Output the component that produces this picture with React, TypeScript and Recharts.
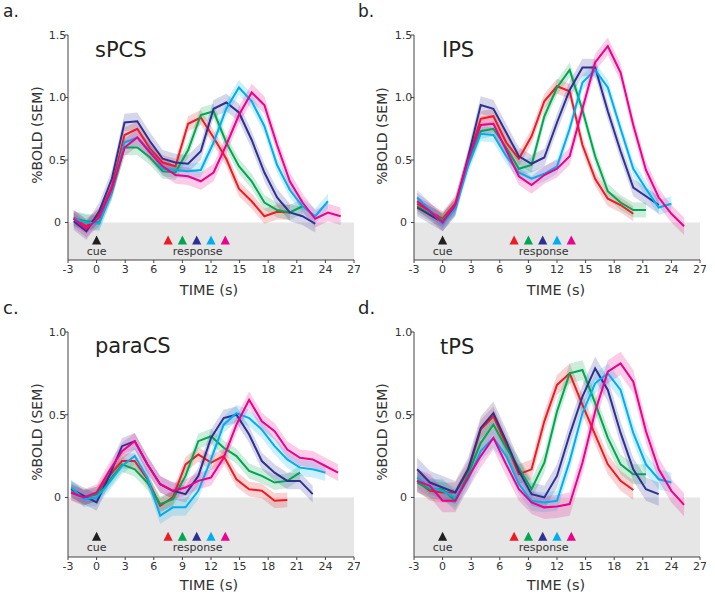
import React from 'react';
import { ComposedChart, Line, Area, XAxis, YAxis, ReferenceArea, Scatter } from 'recharts';

// ---------- data ----------
const COLORS = ['#ed1c24', '#00a651', '#2e3192', '#00aeef', '#ec008c'];
const X_TICKS = [-3, 0, 3, 6, 9, 12, 15, 18, 21, 24, 27];
const CUE_T = [0];
const RESPONSE_T = [7.5, 9, 10.5, 12, 13.5];
const RESPONSE_LABEL_T = [10.6];

const TIME_A = [-2.4, -1.07, 0.27, 1.6, 2.93, 4.27, 5.6, 6.93, 8.27, 9.6, 10.93, 12.27, 13.6, 14.93, 16.27, 17.6, 18.93, 20.27, 21.6, 22.93, 24.27, 25.6];
const TIME_BCD = [-2.67, -1.33, 0, 1.33, 2.67, 4, 5.33, 6.67, 8, 9.33, 10.67, 12, 13.33, 14.67, 16, 17.33, 18.67, 20, 21.33, 22.67, 24, 25.33];

// a. sPCS
const A_RED = [0.04, -0.03, 0.06, 0.29, 0.7, 0.75, 0.59, 0.48, 0.45, 0.79, 0.84, 0.68, 0.51, 0.27, 0.17, 0.05, 0.085, 0.08];
const A_GREEN = [0.03, 0.01, 0.0, 0.24, 0.6, 0.6, 0.52, 0.41, 0.4, 0.58, 0.86, 0.89, 0.64, 0.45, 0.33, 0.16, 0.1, 0.08, 0.13];
const A_BLUE = [0.01, -0.07, 0.09, 0.35, 0.8, 0.81, 0.65, 0.51, 0.48, 0.47, 0.57, 0.91, 0.96, 0.88, 0.66, 0.4, 0.2, 0.08, 0.05, -0.01];
const A_CYAN = [0.03, 0.0, -0.01, 0.25, 0.64, 0.68, 0.57, 0.43, 0.42, 0.41, 0.42, 0.64, 0.91, 1.08, 0.97, 0.77, 0.46, 0.26, 0.13, 0.05, 0.17];
const A_MAGENTA = [0.03, -0.05, 0.04, 0.27, 0.6, 0.68, 0.56, 0.45, 0.38, 0.37, 0.33, 0.4, 0.62, 0.86, 1.04, 0.94, 0.62, 0.33, 0.16, 0.03, 0.08, 0.05];
const A_SEM = [0.06, 0.06, 0.07, 0.06, 0.07];

// b. IPS
const B_RED = [0.15, 0.09, 0.03, 0.15, 0.5, 0.83, 0.85, 0.64, 0.51, 0.69, 0.97, 1.09, 1.05, 0.62, 0.35, 0.19, 0.14, 0.07];
const B_GREEN = [0.13, 0.07, 0.02, 0.12, 0.48, 0.73, 0.75, 0.6, 0.43, 0.46, 0.85, 1.08, 1.22, 0.9, 0.53, 0.25, 0.16, 0.1, 0.1];
const B_BLUE = [0.12, 0.06, 0.0, 0.12, 0.52, 0.94, 0.91, 0.72, 0.53, 0.47, 0.52, 0.8, 1.06, 1.24, 1.24, 0.89, 0.57, 0.28, 0.21, 0.14];
const B_CYAN = [0.2, 0.1, -0.01, 0.11, 0.45, 0.71, 0.7, 0.53, 0.4, 0.35, 0.39, 0.45, 0.75, 1.12, 1.22, 1.08, 0.75, 0.43, 0.27, 0.12, 0.15];
const B_MAGENTA = [0.17, 0.09, 0.0, 0.14, 0.5, 0.78, 0.79, 0.58, 0.37, 0.3, 0.38, 0.43, 0.53, 0.91, 1.28, 1.41, 1.2, 0.78, 0.42, 0.2, 0.07, -0.03];
const B_SEM = [0.06, 0.06, 0.07, 0.06, 0.07];

// c. paraCS
const C_RED = [0.03, 0.0, 0.02, 0.13, 0.22, 0.22, 0.11, -0.05, 0.0, 0.2, 0.26, 0.21, 0.25, 0.11, 0.05, 0.04, -0.02, -0.015];
const C_GREEN = [0.05, 0.0, 0.02, 0.1, 0.2, 0.17, 0.09, -0.04, -0.01, 0.13, 0.34, 0.37, 0.3, 0.25, 0.16, 0.13, 0.09, 0.1, 0.15];
const C_BLUE = [0.05, 0.01, -0.03, 0.13, 0.31, 0.34, 0.2, 0.08, 0.04, 0.02, 0.13, 0.36, 0.48, 0.5, 0.38, 0.22, 0.15, 0.1, 0.1, 0.02];
const C_CYAN = [0.06, -0.01, 0.0, 0.09, 0.19, 0.25, 0.12, -0.11, -0.06, -0.06, 0.04, 0.23, 0.44, 0.51, 0.48, 0.41, 0.31, 0.23, 0.18, 0.17, 0.15];
const C_MAGENTA = [0.03, 0.0, 0.03, 0.16, 0.28, 0.34, 0.2, 0.08, 0.04, 0.06, 0.1, 0.12, 0.24, 0.44, 0.59, 0.46, 0.4, 0.29, 0.24, 0.23, 0.19, 0.15];
const C_SEM = [0.045, 0.045, 0.05, 0.05, 0.05];

// d. tPS
const D_RED = [0.1, 0.04, 0.03, 0.03, 0.16, 0.41, 0.49, 0.32, 0.14, 0.17, 0.46, 0.68, 0.75, 0.56, 0.38, 0.2, 0.1, 0.045];
const D_GREEN = [0.09, 0.05, 0.05, -0.02, 0.14, 0.33, 0.44, 0.3, 0.18, 0.05, 0.21, 0.52, 0.75, 0.77, 0.57, 0.36, 0.2, 0.14, 0.14];
const D_BLUE = [0.17, 0.09, 0.06, 0.03, 0.17, 0.42, 0.51, 0.34, 0.16, 0.02, 0.0, 0.13, 0.38, 0.61, 0.78, 0.65, 0.39, 0.17, 0.05, 0.02];
const D_CYAN = [0.12, 0.06, 0.04, 0.0, 0.11, 0.28, 0.36, 0.25, 0.08, -0.02, -0.03, -0.02, 0.22, 0.51, 0.69, 0.75, 0.65, 0.39, 0.2, 0.11, 0.09];
const D_MAGENTA = [0.1, 0.07, -0.02, -0.02, 0.12, 0.25, 0.36, 0.2, 0.05, -0.03, -0.06, -0.055, -0.04, 0.21, 0.52, 0.76, 0.81, 0.7, 0.4, 0.17, 0.04, -0.045];
const D_SEM = [0.06, 0.06, 0.07, 0.06, 0.07];

const Y_TICKS_15 = [0, 0.5, 1, 1.5];
const Y_TICKS_10 = [0, 0.5, 1];

// ---------- helpers ----------
const FONT = 'DejaVu Sans, Verdana, sans-serif';

function buildRows(times: number[], series: number[][], sem: number[]) {
  return times.map((t, i) => {
    const row: any = { t };
    series.forEach((arr, k) => {
      const v = arr[i];
      if (v !== undefined) {
        row['s' + k] = v;
        row['b' + k] = [v - sem[k], v + sem[k]];
      }
    });
    return row;
  });
}

function buildMarkers(markerY: number) {
  const out: any[] = [];
  CUE_T.forEach((t) => out.push({ t, y: markerY, color: '#231f20', label: 'cue' }));
  RESPONSE_T.forEach((t, i) => out.push({ t, y: markerY, color: COLORS[i] }));
  RESPONSE_LABEL_T.forEach((t) => out.push({ t, y: markerY, label: 'response' }));
  return out;
}

const MarkerShape = (props: any) => {
  const { cx, cy, payload } = props;
  if (cx == null || cy == null) return null;
  return (
    <g>
      {payload.color ? (
        <path d={`M${cx - 4.6},${cy + 4.5} L${cx + 4.6},${cy + 4.5} L${cx},${cy - 4.5} Z`} fill={payload.color} />
      ) : null}
      {payload.label ? (
        <text x={cx} y={cy + 15} textAnchor="middle" fontSize={11} fill="#333" fontFamily={FONT}>
          {payload.label}
        </text>
      ) : null}
    </g>
  );
};

const YTick = (props: any) => {
  const { x, y, payload } = props;
  const v = payload.value;
  return (
    <text x={x - 5.5} y={y} dy="0.35em" textAnchor="middle" fontSize={11} fill="#333" fontFamily={FONT}>
      {v === 0 ? '0' : v.toFixed(1)}
    </text>
  );
};

type PanelProps = {
  left: number;
  top: number;
  rows: any[];
  yDomain: [number, number];
  yTicks: number[];
  markerY: number;
};

function Panel({ left, top, rows, yDomain, yTicks, markerY }: PanelProps) {
  const markers = buildMarkers(markerY);
  return (
    <div style={{ position: 'absolute', left, top }}>
      <ComposedChart width={360} height={300} data={rows} margin={{ top: 35, right: 6, left: 28, bottom: 15 }}>
        <ReferenceArea x1={-3} x2={27} y1={yDomain[0]} y2={0} fill="#e6e6e6" fillOpacity={1} stroke="none" />
        <XAxis
          dataKey="t"
          type="number"
          domain={[-3, 27]}
          ticks={X_TICKS}
          interval={0}
          allowDataOverflow
          height={25}
          tickSize={3}
          tick={{ fontSize: 11, fill: '#333', fontFamily: FONT }}
          stroke="#444"
        />
        <YAxis
          type="number"
          domain={yDomain}
          ticks={yTicks}
          interval={0}
          allowDataOverflow
          width={40}
          tickSize={3}
          tick={<YTick />}
          stroke="#444"
        />
        {COLORS.map((c, k) => (
          <Area
            key={'b' + k}
            dataKey={'b' + k}
            stroke="none"
            fill={c}
            fillOpacity={0.2}
            isAnimationActive={false}
            dot={false}
            activeDot={false}
          />
        ))}
        {COLORS.map((c, k) => (
          <Line
            key={'s' + k}
            dataKey={'s' + k}
            stroke={c}
            strokeWidth={2}
            dot={false}
            activeDot={false}
            isAnimationActive={false}
          />
        ))}
        <Scatter data={markers} dataKey="y" shape={<MarkerShape />} isAnimationActive={false} />
      </ComposedChart>
    </div>
  );
}

const ROWS_A = buildRows(TIME_A, [A_RED, A_GREEN, A_BLUE, A_CYAN, A_MAGENTA], A_SEM);
const ROWS_B = buildRows(TIME_BCD, [B_RED, B_GREEN, B_BLUE, B_CYAN, B_MAGENTA], B_SEM);
const ROWS_C = buildRows(TIME_BCD, [C_RED, C_GREEN, C_BLUE, C_CYAN, C_MAGENTA], C_SEM);
const ROWS_D = buildRows(TIME_BCD, [D_RED, D_GREEN, D_BLUE, D_CYAN, D_MAGENTA], D_SEM);

export default function App() {
  const txt = { fontFamily: FONT, fill: '#231f20' } as any;
  return (
    <div style={{ position: 'absolute', left: 0, top: 0, width: 715, height: 598, background: '#fff', fontFamily: FONT }}>
      <Panel left={0} top={0} rows={ROWS_A} yDomain={[-0.3, 1.5]} yTicks={Y_TICKS_15} markerY={-0.14} />
      <Panel left={346} top={0} rows={ROWS_B} yDomain={[-0.3, 1.5]} yTicks={Y_TICKS_15} markerY={-0.14} />
      <Panel left={0} top={297} rows={ROWS_C} yDomain={[-0.36, 1.0]} yTicks={Y_TICKS_10} markerY={-0.235} />
      <Panel left={346} top={297} rows={ROWS_D} yDomain={[-0.36, 1.0]} yTicks={Y_TICKS_10} markerY={-0.235} />
      <svg width={715} height={598} style={{ position: 'absolute', left: 0, top: 0, pointerEvents: 'none' }}>
        <text x={3} y={16.5} fontSize={17} {...txt}>a.</text>
        <text x={358} y={16.5} fontSize={17} {...txt}>b.</text>
        <text x={3} y={314} fontSize={18} {...txt}>c.</text>
        <text x={358} y={314} fontSize={18} {...txt}>d.</text>

        <text x={95} y={57} fontSize={21} {...txt}>sPCS</text>
        <text x={442} y={57} fontSize={21} {...txt}>IPS</text>
        <text x={95} y={353} fontSize={21} {...txt}>paraCS</text>
        <text x={440} y={354} fontSize={21} {...txt}>tPS</text>

        <text x={37} y={135} fontSize={14} textAnchor="middle" dominantBaseline="central" transform="rotate(-90 37 135)" {...txt} fill="#333">%BOLD (SEM)</text>
        <text x={382} y={136} fontSize={14} textAnchor="middle" dominantBaseline="central" transform="rotate(-90 382 136)" {...txt} fill="#333">%BOLD (SEM)</text>
        <text x={37} y={432} fontSize={14} textAnchor="middle" dominantBaseline="central" transform="rotate(-90 37 432)" {...txt} fill="#333">%BOLD (SEM)</text>
        <text x={382} y={432} fontSize={14} textAnchor="middle" dominantBaseline="central" transform="rotate(-90 382 432)" {...txt} fill="#333">%BOLD (SEM)</text>

        <text x={209} y={295} fontSize={14.5} textAnchor="middle" {...txt} fill="#333">TIME (s)</text>
        <text x={556} y={295} fontSize={14.5} textAnchor="middle" {...txt} fill="#333">TIME (s)</text>
        <text x={209} y={590} fontSize={14.5} textAnchor="middle" {...txt} fill="#333">TIME (s)</text>
        <text x={556} y={590} fontSize={14.5} textAnchor="middle" {...txt} fill="#333">TIME (s)</text>
      </svg>
    </div>
  );
}
